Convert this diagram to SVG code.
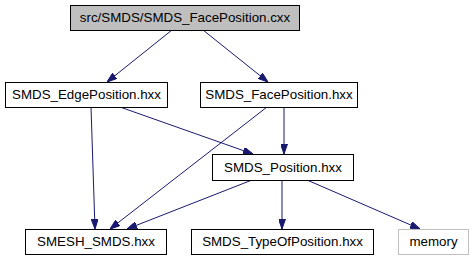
<svg xmlns="http://www.w3.org/2000/svg" width="473" height="261" viewBox="0 0 473 261">
<defs>
<marker id="ah" viewBox="0 0 10 7" refX="10" refY="3.5" markerWidth="10" markerHeight="7" markerUnits="userSpaceOnUse" orient="auto">
<path d="M0,0 L10,3.5 L0,7 z" fill="#191970" stroke="#191970"/>
</marker>
</defs>
<style>
.n rect{fill:#fff;stroke:#000;stroke-width:1}
.n text{font-family:"Liberation Sans",Arial,sans-serif;font-size:13.33px;text-anchor:middle;fill:#000}
#connectors line{stroke:#191970;stroke-width:1;marker-end:url(#ah)}
</style>
<rect width="473" height="261" fill="#fff"/>
<g id="connectors">
<line x1="172" y1="30" x2="107" y2="82"/>
<line x1="203" y1="30" x2="268" y2="82"/>
<line x1="91" y1="107" x2="95" y2="229"/>
<line x1="120" y1="107" x2="253" y2="154"/>
<line x1="267" y1="107" x2="110" y2="229"/>
<line x1="284" y1="107" x2="284" y2="154"/>
<line x1="252" y1="180" x2="127" y2="229"/>
<line x1="282" y1="180" x2="282" y2="229"/>
<line x1="307" y1="180" x2="420" y2="229"/>
</g>
<g id="node1" class="n"><rect x="70.5" y="5.5" width="229" height="25" style="fill:#bfbfbf"/><text x="185" y="22">src/SMDS/SMDS_FacePosition.cxx</text></g>
<g id="node2" class="n"><rect x="5.5" y="82.5" width="162" height="25"/><text x="86.5" y="99">SMDS_EdgePosition.hxx</text></g>
<g id="node3" class="n"><rect x="200.5" y="82.5" width="157" height="25"/><text x="279" y="99">SMDS_FacePosition.hxx</text></g>
<g id="node4" class="n"><rect x="212.5" y="154.5" width="141" height="26"/><text x="283" y="172">SMDS_Position.hxx</text></g>
<g id="node5" class="n"><rect x="25.5" y="229.5" width="141" height="25"/><text x="96" y="246">SMESH_SMDS.hxx</text></g>
<g id="node6" class="n"><rect x="191.5" y="229.5" width="182" height="25"/><text x="282.5" y="246">SMDS_TypeOfPosition.hxx</text></g>
<g id="node7" class="n"><rect x="398.5" y="229.5" width="70" height="25" style="stroke:#bfbfbf"/><text x="433.5" y="246">memory</text></g>
</svg>
